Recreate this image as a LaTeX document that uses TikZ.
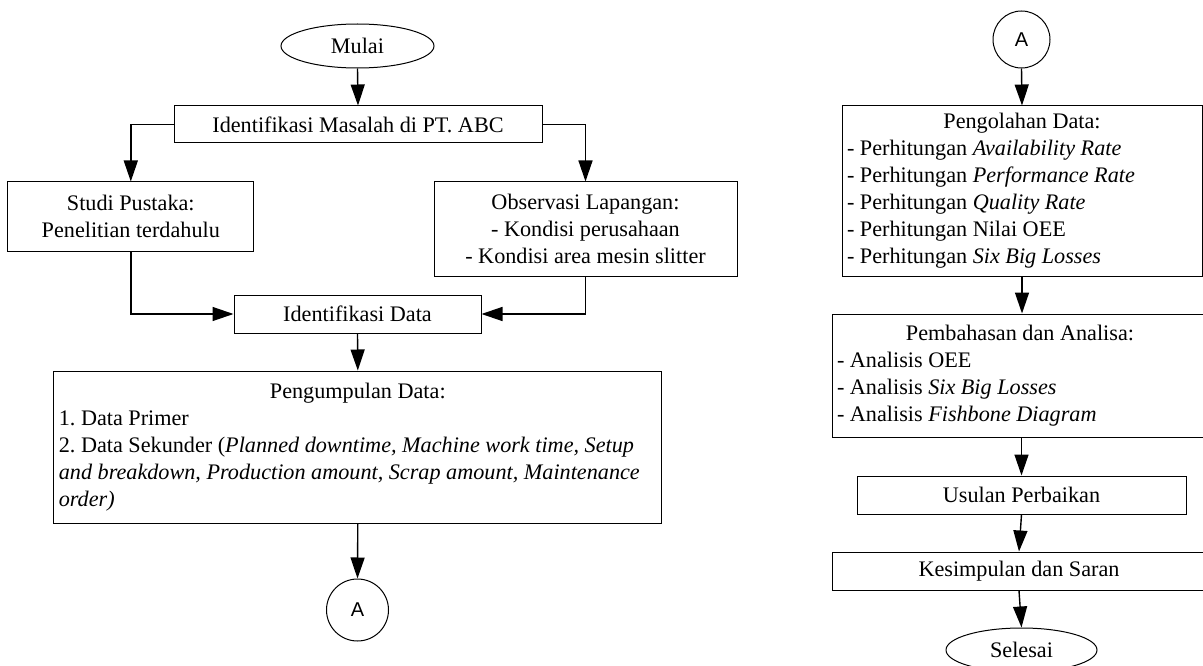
\documentclass[tikz,border=0pt]{standalone}
\usepackage{fontspec}
\setmainfont{Liberation Serif}
\newfontfamily\sansA{Liberation Sans}
\usetikzlibrary{arrows.meta,shapes.geometric}
\begin{document}
\begin{tikzpicture}[x=1pt,y=-1pt,
  every node/.style={font=\fontsize{22.2}{27}\selectfont},
  box/.style={draw=black,line width=1pt,rectangle,inner xsep=5pt,inner ysep=0pt,align=center},
  lbox/.style={box,align=flush left},
  term/.style={draw=black,line width=1pt,ellipse,inner sep=0pt},
  conn/.style={draw=black,line width=1pt,circle,inner sep=0pt,font=\sansA\fontsize{20}{24}\selectfont},
  arr/.style={line width=1.4pt,-{Triangle[length=21pt,width=14pt]}}]
\useasboundingbox (0,0) rectangle (1203,666);
% left column
\node[term,minimum width=153pt,minimum height=44pt] (mulai) at (357.5,46) {Mulai};
\node[box,minimum width=368pt,minimum height=37pt] (idm) at (358,124.5) {Identifikasi Masalah di PT.\ ABC};
\node[box,minimum width=246pt,minimum height=69pt] (studi) at (130.8,216.5) {Studi Pustaka:\\Penelitian terdahulu};
\node[box,minimum width=303pt,minimum height=94pt] (obs) at (585.5,229) {Observasi Lapangan:\\- Kondisi perusahaan\\- Kondisi area mesin slitter};
\node[box,minimum width=247pt,minimum height=38pt] (idd) at (357.5,314) {Identifikasi Data};
\node[lbox,text width=598pt,minimum height=152pt] (pd) at (357.8,447) {\makebox[\linewidth]{Pengumpulan Data:}\\1.\ Data Primer\\2.\ Data Sekunder (\textit{Planned downtime, Machine work time, Setup}\\\textit{and breakdown, Production amount, Scrap amount, Maintenance}\\\textit{order)}};
\node[conn,minimum width=62pt] (a1) at (357.5,610) {A};
% right column
\node[conn,minimum width=57pt] (a2) at (1021.5,39.5) {A};
\node[lbox,text width=350pt,minimum height=170pt] (po) at (1022,191) {\makebox[\linewidth]{Pengolahan Data:}\\- Perhitungan \textit{Availability Rate}\\- Perhitungan \textit{Performance Rate}\\- Perhitungan \textit{Quality Rate}\\- Perhitungan Nilai OEE\\- Perhitungan \textit{Six Big Losses}};
\node[lbox,text width=366pt,minimum height=123pt] (pb) at (1020,375.5) {\makebox[\linewidth]{Pembahasan dan Analisa:}\\- Analisis OEE\\- Analisis \textit{Six Big Losses}\\- Analisis \textit{Fishbone Diagram}};
\node[box,minimum width=329pt,minimum height=38pt] (us) at (1021.5,495) {Usulan Perbaikan};
\node[box,minimum width=374pt,minimum height=38pt] (ks) at (1019,571) {Kesimpulan dan Saran};
\node[term,minimum width=151pt,minimum height=44pt] (sel) at (1021.5,650) {Selesai};
% connectors
\draw[arr] (mulai.south) -- (idm.north);
\draw[arr] (idm.west) -| (studi.north);
\draw[arr] (idm.east) -| (obs.north);
\draw[arr] (studi.south) |- (idd.west);
\draw[arr] (obs.south) |- (idd.east);
\draw[arr] (idd.south) -- (pd.north);
\draw[arr] (pd.south) -- (a1.north);
\draw[arr] (a2.south) -- (po.north);
\draw[arr] (po.south) -- (po.south |- pb.north);
\draw[arr] (pb.south -| us.north) -- (us.north);
\draw[arr] (us.south) -- (ks.north);
\draw[arr] (ks.south) -- (sel.north);
\end{tikzpicture}
\end{document}
